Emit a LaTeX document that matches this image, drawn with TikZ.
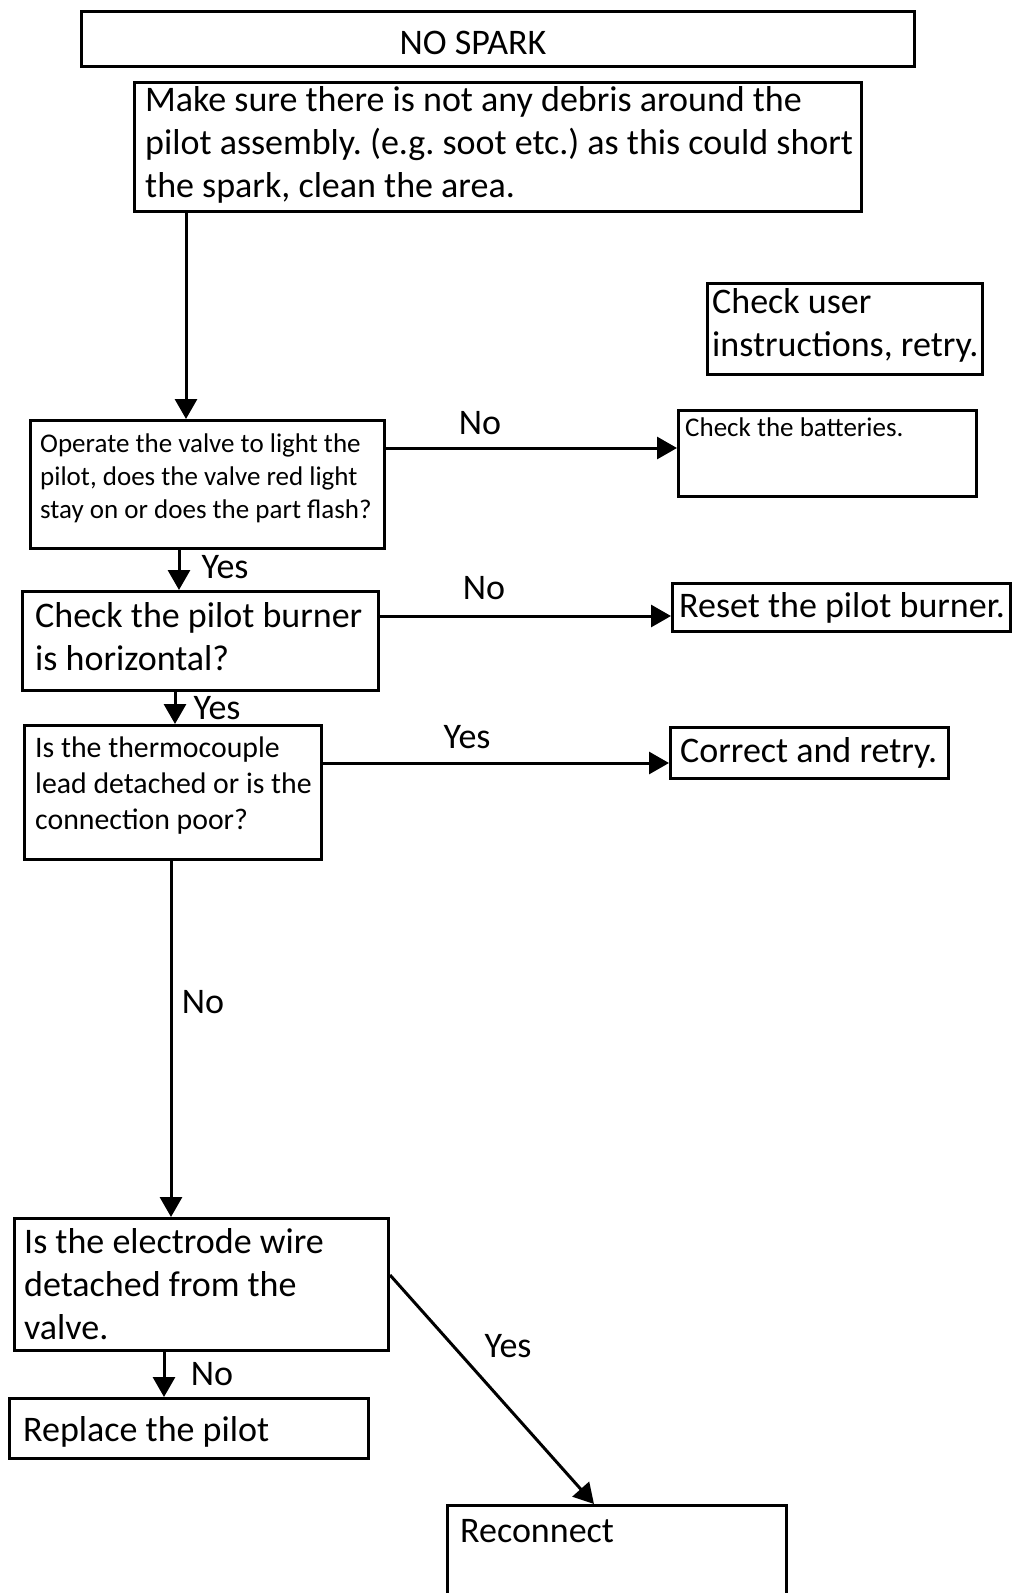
\documentclass[tikz,border=0pt]{standalone}
\usepackage{fontspec}
\setmainfont{Carlito}
\usetikzlibrary{arrows.meta}
\frenchspacing
\newcommand\FtBig{\fontsize{36}{43}\selectfont}
\newcommand\FtMid{\fontsize{29.8}{36}\selectfont}
\newcommand\FtSmall{\fontsize{27}{33}\selectfont}
\tikzset{
  box/.style={draw, line width=3pt, rectangle, inner sep=0pt, anchor=north west},
  txt/.style={inner sep=0pt, align=left, anchor=north west},
  big/.style={txt, font=\FtBig},
  mid/.style={txt, font=\FtMid},
  small/.style={txt, font=\FtSmall},
  lbl/.style={inner sep=0pt, font=\FtBig},
  arr/.style={line width=3pt, -{Triangle[length=20pt,width=22pt]}}
}
\begin{document}
\begin{tikzpicture}[x=1pt,y=-1pt]
\clip (0,0) rectangle (1012,1593);
\fill[white] (0,0) rectangle (1012,1593);
% boxes
\node[box, minimum width=833pt, minimum height=55pt] (nospark) at (80,10) {};
\node[box, minimum width=727pt, minimum height=129pt] (debris) at (133,81) {};
\node[box, minimum width=275pt, minimum height=91pt] (checkuser) at (706,282) {};
\node[box, minimum width=354pt, minimum height=128pt] (operate) at (29,419) {};
\node[box, minimum width=298pt, minimum height=86pt] (batteries) at (677,409) {};
\node[box, minimum width=356pt, minimum height=99pt] (burner) at (21,590) {};
\node[box, minimum width=338pt, minimum height=48pt] (reset) at (671,582) {};
\node[box, minimum width=297pt, minimum height=134pt] (thermo) at (23,724) {};
\node[box, minimum width=278pt, minimum height=51pt] (correct) at (669,726) {};
\node[box, minimum width=374pt, minimum height=132pt] (electrode) at (13,1217) {};
\node[box, minimum width=359pt, minimum height=60pt] (replace) at (8,1397) {};
\node[box, minimum width=339pt, minimum height=130pt] (reconnect) at (446,1504) {};
% texts (top = baseline - 0.7 baselineskip)
\node[lbl, anchor=base] (nospark-t) at (473,54) {NO SPARK};
\node[big] (debris-t) at (145,81) {\strut Make sure there is not any debris around the\\pilot assembly. (e.g. soot etc.) as this could short\\the spark, clean the area.};
\node[big] (checkuser-t) at (712,283) {\strut Check user\\instructions, retry.};
\node[small] (operate-t) at (40,429) {\strut Operate the valve to light the\\pilot, does the valve red light\\stay on or does the part flash?};
\node[small] (batteries-t) at (685,413) {\strut Check the batteries.};
\node[big] (burner-t) at (35,597) {\strut Check the pilot burner\\is horizontal?};
\node[big] (reset-t) at (679,587) {\strut Reset the pilot burner.};
\node[mid] (thermo-t) at (35,732) {\strut Is the thermocouple\\lead detached or is the\\connection poor?};
\node[big] (correct-t) at (680,732) {\strut Correct and retry.};
\node[big] (electrode-t) at (24,1223) {\strut Is the electrode wire\\detached from the\\valve.};
\node[big] (replace-t) at (23,1411) {\strut Replace the pilot};
\node[big] (reconnect-t) at (460,1512) {\strut Reconnect};
% connectors
\draw[arr] ([xshift=53pt]debris.south west) -- ([xshift=157pt]operate.north west);
\draw[arr] ([yshift=-29pt]operate.north east) -- ([yshift=-39pt]batteries.north west);
\draw[arr] ([xshift=150pt]operate.south west) -- ([xshift=158pt]burner.north west);
\draw[arr] ([yshift=-26pt]burner.north east) -- ([yshift=-34pt]reset.north west);
\draw[arr] ([xshift=154pt]burner.south west) -- ([xshift=152pt]thermo.north west);
\draw[arr] ([yshift=-39pt]thermo.north east) -- ([yshift=-37pt]correct.north west);
\draw[arr] ([xshift=148pt]thermo.south west) -- ([xshift=158pt]electrode.north west);
\draw[arr] ([xshift=151pt]electrode.south west) -- ([xshift=156pt]replace.north west);
\draw[arr] ([yshift=-58pt]electrode.north east) -- ([xshift=148pt]reconnect.north west);
% labels
\node[lbl] (l1) at (480,423) {No};
\node[lbl] (l2) at (225,567) {Yes};
\node[lbl] (l3) at (484,588) {No};
\node[lbl] (l4) at (217,708) {Yes};
\node[lbl] (l5) at (467,737) {Yes};
\node[lbl] (l6) at (203,1002) {No};
\node[lbl] (l7) at (212,1374) {No};
\node[lbl] (l8) at (508,1346) {Yes};
\end{tikzpicture}
\end{document}
